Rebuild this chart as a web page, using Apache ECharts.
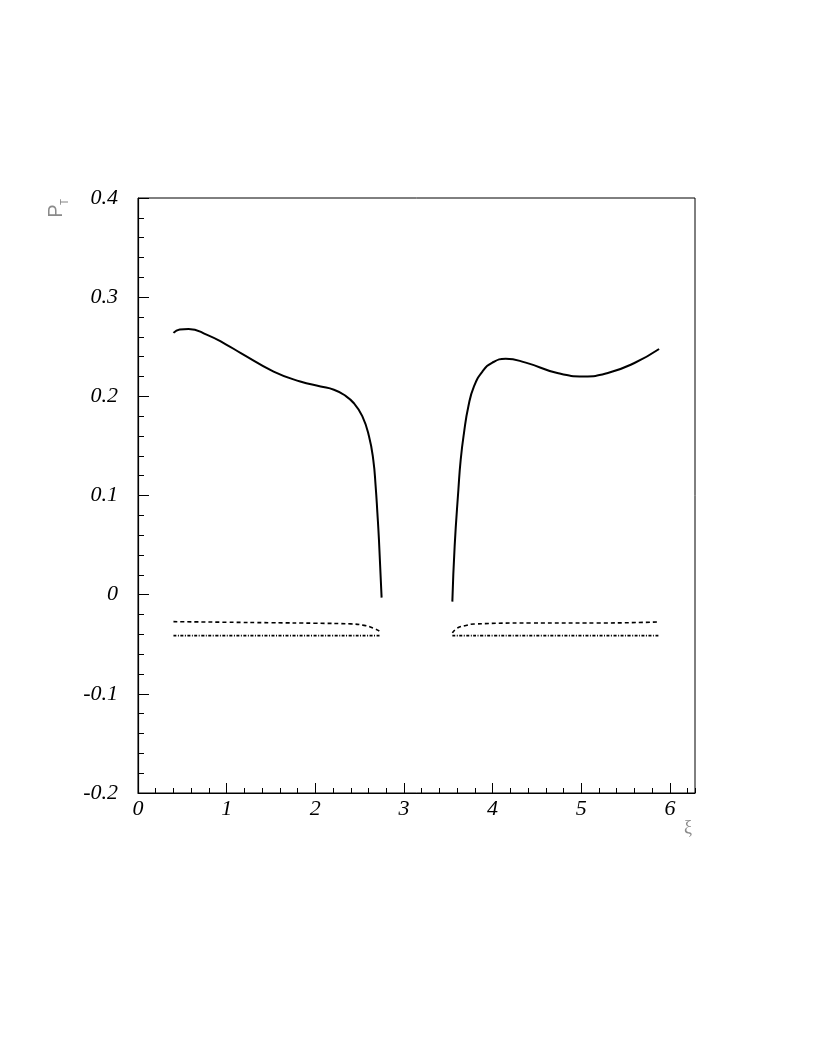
<!DOCTYPE html>
<html>
<head>
<meta charset="utf-8">
<script src="https://cdn.jsdelivr.net/npm/echarts@6/dist/echarts.min.js"></script>
<style>
  html, body { margin: 0; padding: 0; background: #fff; }
  #chart { width: 817px; height: 1058px; }
</style>
</head>
<body>
<div id="chart"></div>
<script>
// solid curve, left branch
const xiSolidL = [0.40, 0.47, 0.57, 0.78, 1.00, 1.16, 1.53, 1.83, 2.06, 2.21, 2.323, 2.436, 2.53, 2.605, 2.654, 2.681, 2.70, 2.718, 2.748];
const ptSolidL = [0.264, 0.2675, 0.268, 0.262, 0.252, 0.2436, 0.225, 0.215, 0.210, 0.2067, 0.2016, 0.193, 0.180, 0.160, 0.136, 0.109, 0.083, 0.0554, -0.003];
// solid curve, right branch
const xiSolidR = [3.546, 3.572, 3.614, 3.640, 3.677, 3.727, 3.790, 3.885, 3.998, 4.148, 4.374, 4.73, 5.03, 5.30, 5.60, 5.878];
const ptSolidR = [-0.007, 0.049, 0.1058, 0.136, 0.163, 0.190, 0.210, 0.225, 0.234, 0.2379, 0.234, 0.2235, 0.2201, 0.2235, 0.2336, 0.2477];
// dashed curve
const xiDashL = [0.40, 1.00, 1.50, 2.00, 2.40, 2.55, 2.65, 2.73];
const ptDashL = [-0.0272, -0.0278, -0.0283, -0.0288, -0.0295, -0.031, -0.0335, -0.037];
const xiDashR = [3.546, 3.603, 3.70, 3.79, 4.43, 5.18, 5.878];
const ptDashR = [-0.0386, -0.0336, -0.031, -0.0296, -0.0286, -0.0286, -0.0275];
// dash-dotted curve
const xiDotL = [0.40, 1.50, 2.73];
const ptDotL = [-0.0413, -0.0413, -0.0413];
const xiDotR = [3.546, 4.70, 5.878];
const ptDotR = [-0.0413, -0.0413, -0.0413];

const XMAX = 2 * Math.PI;

function zip(xs, ys) {
  return xs.map((x, i) => [x, ys[i]]);
}

const labelFont = {
  fontFamily: 'Liberation Serif',
  fontStyle: 'italic',
  fontSize: 22,
  color: '#000'
};

function line(data, type, width) {
  return {
    type: 'line',
    data: data,
    xAxisIndex: 0,
    yAxisIndex: 0,
    showSymbol: false,
    smooth: 0.5,
    lineStyle: { color: '#000', width: width, type: type },
    silent: true
  };
}

const chart = echarts.init(document.getElementById('chart'));
chart.setOption({
  backgroundColor: '#fff',
  animation: false,
  grid: {
    left: 138, right: 122, top: 198, bottom: 265,
    show: true, borderColor: '#000', borderWidth: 1
  },
  xAxis: [
    {
      type: 'value', min: 0, max: XMAX, interval: 1, position: 'bottom',
      axisLine: { onZero: false, lineStyle: { color: '#000', width: 1.2 } },
      axisTick: { inside: true, length: 10, lineStyle: { color: '#000' } },
      axisLabel: Object.assign({ margin: 5, showMaxLabel: false }, labelFont),
      splitLine: { show: false }
    },
    {
      type: 'value', min: 0, max: XMAX, interval: 0.2, position: 'bottom',
      axisLine: { show: false, onZero: false },
      axisTick: { inside: true, length: 5, lineStyle: { color: '#000' } },
      axisLabel: { show: false },
      splitLine: { show: false }
    }
  ],
  yAxis: {
    type: 'value', min: -0.2, max: 0.4, interval: 0.1,
    axisLine: { show: true, onZero: false, lineStyle: { color: '#000', width: 1.2 } },
    axisTick: { show: true, inside: true, length: 11, lineStyle: { color: '#000' } },
    minorTick: { show: true, splitNumber: 5, length: 6, lineStyle: { color: '#000' } },
    axisLabel: Object.assign({ margin: 20 }, labelFont),
    splitLine: { show: false }
  },
  graphic: [
    {
      type: 'text', x: 56, y: 211, rotation: Math.PI / 2,
      style: { text: 'P', fontFamily: 'Liberation Sans', fontSize: 20, fill: '#8a8a8a', align: 'center', verticalAlign: 'middle' }
    },
    {
      type: 'text', x: 65, y: 202, rotation: Math.PI / 2,
      style: { text: 'T', fontFamily: 'Liberation Sans', fontSize: 10, fill: '#8a8a8a', align: 'center', verticalAlign: 'middle' }
    },
    {
      type: 'text', x: 688, y: 828,
      style: { text: 'ξ', fontFamily: 'Liberation Serif', fontSize: 18, fill: '#8a8a8a', align: 'center', verticalAlign: 'middle' }
    }
  ],
  series: [
    line(zip(xiSolidL, ptSolidL), 'solid', 2),
    line(zip(xiSolidR, ptSolidR), 'solid', 2),
    line(zip(xiDashL, ptDashL), [4, 3], 1.6),
    line(zip(xiDashR, ptDashR), [4, 3], 1.6),
    line(zip(xiDotL, ptDotL), [3, 1.5, 1, 1.5], 1.6),
    line(zip(xiDotR, ptDotR), [3, 1.5, 1, 1.5], 1.6)
  ]
});
</script>
</body>
</html>
